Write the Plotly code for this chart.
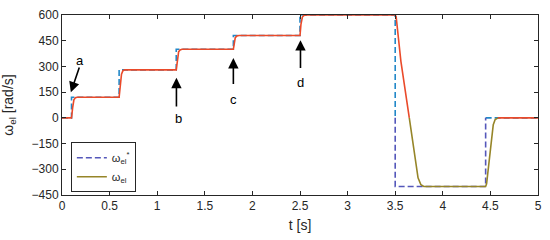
import numpy as np
import plotly.graph_objects as go

# reference speed: step times [s] and set values [rad/s]
ref_t = [0.0, 0.1, 0.6, 1.2, 1.8, 2.5, 3.5, 4.45, 5.0]
ref_w = [0, 120, 280, 400, 480, 600, -400, 0, 0]

act_t = [0.0, 0.1, 0.112, 0.125, 0.14, 0.16,
         0.6, 0.612, 0.625, 0.64, 0.66,
         1.2, 1.21, 1.225, 1.24, 1.26,
         1.8, 1.81, 1.82, 1.835, 1.86,
         2.5, 2.51, 2.525, 2.54, 2.57,
         3.5, 3.51, 3.56, 3.648, 3.74, 3.77, 3.8,
         4.45, 4.46, 4.53, 4.55, 4.58, 5.0]
act_w = [0, 0, 60, 105, 117, 120,
         120, 190, 255, 275, 280,
         280, 335, 385, 396, 400,
         400, 440, 468, 477, 480,
         480, 545, 588, 597, 600,
         600, 590, 330, 0, -350, -390, -400,
         -400, -385, -40, -10, 0, 0]

# arrows: (label, tip t, tip w, tail t, tail w, label t, label w)
arrows = [
    ("a", 0.093, 149, 0.187, 303, 0.185, 332),
    ("b", 1.202, 234, 1.202, 57, 1.22, -6),
    ("c", 1.8, 349, 1.8, 189, 1.805, 110),
    ("d", 2.505, 453, 2.505, 282, 2.51, 206),
]

x_ticks = [0, 0.5, 1, 1.5, 2, 2.5, 3, 3.5, 4, 4.5, 5]
x_labels = ["0", "0.5", "1", "1.5", "2", "2.5", "3", "3.5", "4", "4.5", "5"]
y_ticks = [-450, -300, -150, 0, 150, 300, 450, 600]


def step_path(t, w):
    xs, ys = [t[0]], [w[0]]
    for i in range(1, len(t)):
        xs.append(t[i]); ys.append(w[i - 1])
        if w[i - 1] * w[i] < 0:
            xs.append(t[i]); ys.append(0)
        xs.append(t[i]); ys.append(w[i])
    return np.array(xs, float), np.array(ys, float)


def split_sign(x, y):
    # positive part drawn in one colour, negative part in another
    n = len(y)
    neg = np.zeros(n, bool)
    for i in range(n):
        if y[i] < 0:
            neg[i] = True
        elif y[i] == 0:
            if (i > 0 and y[i - 1] < 0) or (i < n - 1 and y[i + 1] < 0):
                neg[i] = True
    pos = y >= 0
    yp = [v if p else None for v, p in zip(y, pos)]
    yn = [v if q else None for v, q in zip(y, neg)]
    return list(x), yp, yn


rx, ry = step_path(ref_t, ref_w)
rx, ry_pos, ry_neg = split_sign(rx, ry)
ax_, ay_pos, ay_neg = split_sign(np.array(act_t), np.array(act_w, float))

font = "Liberation Sans, Arial, sans-serif"
dash = "6px,3px"

fig = go.Figure()
fig.add_trace(go.Scatter(x=rx, y=ry_pos, mode="lines", showlegend=False,
                         line=dict(color="#2288C8", width=1.6, dash=dash)))
fig.add_trace(go.Scatter(x=rx, y=ry_neg, mode="lines", name="ω<sub>el</sub><sup>*</sup>",
                         line=dict(color="#5457BA", width=1.6, dash=dash)))
fig.add_trace(go.Scatter(x=ax_, y=ay_pos, mode="lines", showlegend=False,
                         line=dict(color="#EA4A2A", width=1.6)))
fig.add_trace(go.Scatter(x=ax_, y=ay_neg, mode="lines", name="ω<sub>el</sub>",
                         line=dict(color="#968528", width=1.6)))

for lab, tx, tw, sx, sw, lx, lw in arrows:
    fig.add_annotation(x=tx, y=tw, ax=sx, ay=sw, xref="x", yref="y",
                       axref="x", ayref="y", text="", showarrow=True,
                       arrowhead=2, arrowsize=1.3, arrowwidth=1.6,
                       arrowcolor="black")
    fig.add_annotation(x=lx, y=lw, xref="x", yref="y", text=lab,
                       showarrow=False, font=dict(size=13, color="black", family=font))

fig.update_layout(
    width=550, height=240,
    margin=dict(l=59, r=8, t=11, b=45),
    paper_bgcolor="white", plot_bgcolor="white",
    font=dict(family=font, size=12, color="#262626"),
    legend=dict(x=0.0186, y=0.293, xanchor="left", yanchor="top",
                bordercolor="#262626", borderwidth=1, bgcolor="white",
                font=dict(size=11, color="#262626"),
                itemwidth=30, tracegroupgap=0),
)
fig.update_xaxes(range=[0, 5], tickvals=x_ticks, ticktext=x_labels,
                 ticks="inside", ticklen=4, tickcolor="#262626",
                 showline=True, linecolor="#262626", linewidth=1, mirror="ticks",
                 showgrid=False, zeroline=False, ticklabelstandoff=0,
                 title=dict(text="t [s]", standoff=7))
fig.update_yaxes(range=[-450, 600], tickvals=y_ticks,
                 ticks="inside", ticklen=4, tickcolor="#262626",
                 showline=True, linecolor="#262626", linewidth=1, mirror="ticks",
                 showgrid=False, zeroline=False,
                 title=dict(text="ω<sub>el</sub> [rad/s]", standoff=14))

# drop the browser's default 8px body margin so the figure sits at 0,0
fig.write_html("out.html", config={"displayModeBar": False},
               post_script="document.body.style.margin='0';")
